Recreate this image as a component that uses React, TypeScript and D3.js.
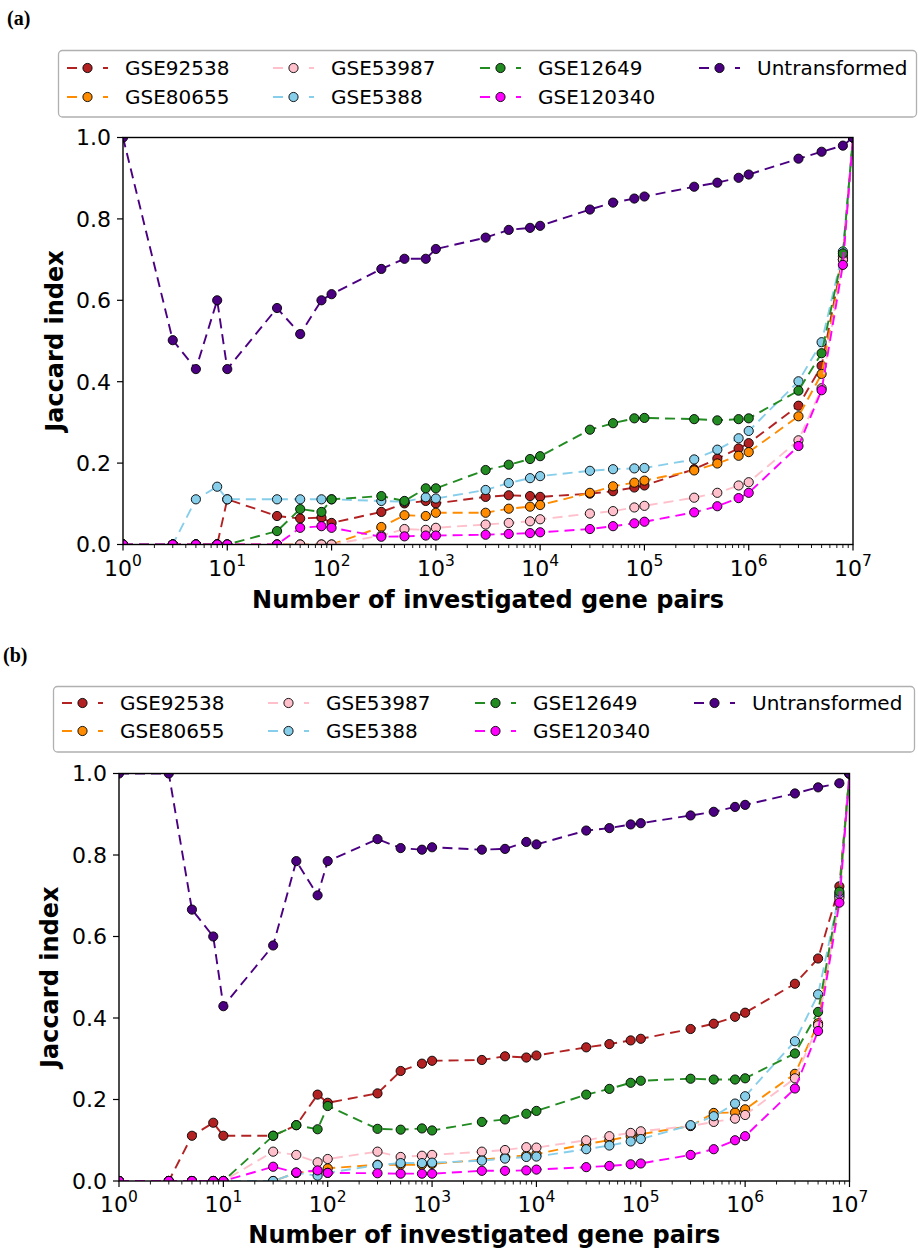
import React from 'react';
import * as d3 from 'd3';

const xValues = [1, 3, 5, 8, 10, 30, 50, 80, 100, 300, 500, 800, 1000, 3000, 5000, 8000, 1e4, 3e4, 5e4, 8e4, 1e5, 3e5, 5e5, 8e5, 1e6, 3e6, 5e6, 8e6, 1e7];

const seriesNames = ['GSE92538', 'GSE80655', 'GSE53987', 'GSE5388', 'GSE12649', 'GSE120340', 'Untransformed'];
const seriesColors = ['#b22222', '#ff8c00', '#ffc0cb', '#87ceeb', '#228b22', '#ff00ff', '#4b0082'];

const xTickExponents = [0, 1, 2, 3, 4, 5, 6, 7];
const yTicks = [0, 0.2, 0.4, 0.6, 0.8, 1.0];

// Panel (a)
const a_GSE92538 = [0, 0, 0, 0, 0.111, 0.070, 0.064, 0.066, 0.053, 0.080, 0.101, 0.107, 0.101, 0.117, 0.121, 0.119, 0.117, 0.125, 0.131, 0.140, 0.145, 0.185, 0.211, 0.236, 0.249, 0.341, 0.439, 0.708, 1.0];
const a_GSE80655 = [0, 0, 0, 0, 0, 0, 0, 0, 0, 0.043, 0.072, 0.070, 0.078, 0.078, 0.088, 0.093, 0.097, 0.127, 0.143, 0.152, 0.157, 0.182, 0.199, 0.218, 0.227, 0.315, 0.419, 0.700, 1.0];
const a_GSE53987 = [0, 0, 0, 0, 0, 0, 0, 0, 0, 0.022, 0.038, 0.036, 0.041, 0.049, 0.053, 0.057, 0.062, 0.076, 0.082, 0.091, 0.095, 0.115, 0.127, 0.145, 0.153, 0.256, 0.384, 0.700, 1.0];
const a_GSE5388 = [0, 0, 0.111, 0.142, 0.111, 0.111, 0.111, 0.111, 0.111, 0.107, 0.105, 0.116, 0.113, 0.134, 0.151, 0.163, 0.168, 0.181, 0.185, 0.187, 0.188, 0.209, 0.233, 0.261, 0.279, 0.401, 0.497, 0.720, 1.0];
const a_GSE12649 = [0, 0, 0, 0, 0, 0.033, 0.087, 0.080, 0.111, 0.119, 0.107, 0.138, 0.138, 0.183, 0.196, 0.210, 0.217, 0.282, 0.298, 0.310, 0.311, 0.308, 0.305, 0.308, 0.310, 0.378, 0.470, 0.715, 1.0];
const a_GSE120340 = [0, 0, 0, 0, 0, 0, 0.041, 0.045, 0.041, 0.019, 0.020, 0.022, 0.022, 0.024, 0.026, 0.028, 0.030, 0.038, 0.045, 0.052, 0.056, 0.079, 0.094, 0.114, 0.127, 0.242, 0.379, 0.687, 1.0];
const a_Untransformed = [1.0, 0.502, 0.431, 0.600, 0.431, 0.581, 0.517, 0.600, 0.615, 0.677, 0.702, 0.702, 0.726, 0.754, 0.773, 0.778, 0.783, 0.823, 0.840, 0.850, 0.855, 0.879, 0.889, 0.901, 0.909, 0.948, 0.965, 0.980, 1.0];

// Panel (b)
const b_GSE92538 = [0, 0, 0.111, 0.143, 0.111, 0.111, 0.137, 0.212, 0.192, 0.215, 0.270, 0.288, 0.295, 0.297, 0.306, 0.303, 0.308, 0.328, 0.336, 0.345, 0.349, 0.373, 0.386, 0.403, 0.413, 0.484, 0.546, 0.723, 1.0];
const b_GSE80655 = [0, 0, 0, 0, 0, 0, 0.020, 0.025, 0.031, 0.040, 0.040, 0.040, 0.042, 0.052, 0.058, 0.063, 0.066, 0.091, 0.100, 0.110, 0.115, 0.135, 0.167, 0.168, 0.176, 0.263, 0.387, 0.700, 1.0];
const b_GSE53987 = [0, 0, 0, 0, 0, 0.072, 0.064, 0.046, 0.054, 0.072, 0.059, 0.062, 0.064, 0.072, 0.076, 0.083, 0.082, 0.100, 0.110, 0.118, 0.122, 0.135, 0.145, 0.153, 0.162, 0.252, 0.382, 0.695, 1.0];
const b_GSE5388 = [0, 0, 0, 0, 0, 0, 0.020, 0.013, 0.020, 0.039, 0.044, 0.044, 0.045, 0.050, 0.055, 0.059, 0.060, 0.078, 0.087, 0.097, 0.103, 0.137, 0.159, 0.190, 0.208, 0.343, 0.458, 0.705, 1.0];
const b_GSE12649 = [0, 0, 0, 0, 0, 0.111, 0.137, 0.127, 0.184, 0.128, 0.126, 0.129, 0.124, 0.145, 0.151, 0.165, 0.172, 0.212, 0.226, 0.241, 0.246, 0.251, 0.249, 0.249, 0.252, 0.313, 0.415, 0.710, 1.0];
const b_GSE120340 = [0, 0, 0, 0, 0, 0.035, 0.021, 0.026, 0.020, 0.019, 0.018, 0.018, 0.018, 0.025, 0.025, 0.026, 0.028, 0.034, 0.037, 0.041, 0.043, 0.064, 0.078, 0.100, 0.110, 0.227, 0.368, 0.683, 1.0];
const b_Untransformed = [1.0, 1.0, 0.666, 0.600, 0.429, 0.578, 0.785, 0.701, 0.785, 0.839, 0.817, 0.813, 0.819, 0.813, 0.815, 0.832, 0.826, 0.860, 0.866, 0.875, 0.878, 0.897, 0.906, 0.918, 0.923, 0.951, 0.966, 0.976, 1.0];

const panelAValues = [a_GSE92538, a_GSE80655, a_GSE53987, a_GSE5388, a_GSE12649, a_GSE120340, a_Untransformed];
const panelBValues = [b_GSE92538, b_GSE80655, b_GSE53987, b_GSE5388, b_GSE12649, b_GSE120340, b_Untransformed];

const FONT = "'DejaVu Sans', sans-serif";
const MARKER_R = 4.6;
const LINE_DASH = '10 6';

type PanelProps = {
  id: string;
  label: string;
  labelX: number;
  labelY: number;
  values: number[][];
  left: number;
  right: number;
  top: number;
  bottom: number;
  legendBox: { x: number; y: number; w: number; h: number };
  legendCols: number[];
  legendRows: number[];
  xLabelY: number;
  yLabelX: number;
};

function Panel(p: PanelProps) {
  const x = d3.scaleLog().domain([1, 1e7]).range([p.left, p.right]);
  const y = d3.scaleLinear().domain([0, 1]).range([p.bottom, p.top]);
  const line = d3
    .line<number>()
    .x((_, i) => x(xValues[i]))
    .y((v) => y(v));

  const minorTicks: number[] = [];
  for (let e = 0; e < 7; e++) {
    for (let k = 2; k <= 9; k++) minorTicks.push(k * Math.pow(10, e));
  }
  const clipId = `clip-${p.id}`;

  return (
    <g>
      <text x={p.labelX} y={p.labelY} fontFamily="'Liberation Serif', 'Times New Roman', serif" fontWeight="bold" fontSize={20}>
        {p.label}
      </text>
      <defs>
        <clipPath id={clipId}>
          <rect x={p.left} y={p.top} width={p.right - p.left} height={p.bottom - p.top} />
        </clipPath>
      </defs>
      <g clipPath={`url(#${clipId})`}>
        {p.values.map((vals, si) => (
          <g key={si}>
            <path d={line(vals) || ''} fill="none" stroke={seriesColors[si]} strokeWidth={1.9} strokeDasharray={LINE_DASH} />
            {vals.map((v, i) => (
              <circle key={i} cx={x(xValues[i])} cy={y(v)} r={MARKER_R} fill={seriesColors[si]} stroke="#000" strokeWidth={0.9} />
            ))}
          </g>
        ))}
      </g>
      <rect x={p.left} y={p.top} width={p.right - p.left} height={p.bottom - p.top} fill="none" stroke="#000" strokeWidth={1.4} />
      {yTicks.map((t) => (
        <g key={t}>
          <line x1={p.left - 6} x2={p.left} y1={y(t)} y2={y(t)} stroke="#000" strokeWidth={1.2} />
          <text x={p.left - 12} y={y(t)} dy="0.36em" textAnchor="end" fontFamily={FONT} fontSize={22}>
            {t.toFixed(1)}
          </text>
        </g>
      ))}
      {xTickExponents.map((e) => (
        <g key={e}>
          <line x1={x(Math.pow(10, e))} x2={x(Math.pow(10, e))} y1={p.bottom} y2={p.bottom + 6} stroke="#000" strokeWidth={1.2} />
          <text x={x(Math.pow(10, e))} y={p.bottom + 31} textAnchor="middle" fontFamily={FONT} fontSize={22}>
            <tspan>10</tspan>
            <tspan dy={-10} fontSize={15.5}>{e}</tspan>
          </text>
        </g>
      ))}
      {minorTicks.map((t) => (
        <line key={t} x1={x(t)} x2={x(t)} y1={p.bottom} y2={p.bottom + 3.5} stroke="#000" strokeWidth={0.9} />
      ))}
      <text x={(p.left + p.right) / 2} y={p.xLabelY} textAnchor="middle" fontFamily={FONT} fontWeight="bold" fontSize={24}>
        Number of investigated gene pairs
      </text>
      <text transform={`translate(${p.yLabelX},${(p.top + p.bottom) / 2}) rotate(-90)`} textAnchor="middle" fontFamily={FONT} fontWeight="bold" fontSize={24}>
        Jaccard index
      </text>
      <rect x={p.legendBox.x} y={p.legendBox.y} width={p.legendBox.w} height={p.legendBox.h} rx={4} fill="#fff" stroke="#b0b0b0" strokeWidth={1.3} />
      {seriesNames.map((name, si) => {
        const col = Math.floor(si / 2);
        const row = si % 2;
        const hx = p.legendCols[col];
        const hy = p.legendRows[row];
        return (
          <g key={name}>
            <line x1={hx} x2={hx + 41} y1={hy} y2={hy} stroke={seriesColors[si]} strokeWidth={1.9} strokeDasharray="10 26 5" />
            <circle cx={hx + 20.5} cy={hy} r={MARKER_R} fill={seriesColors[si]} stroke="#000" strokeWidth={0.9} />
            <text x={hx + 58} y={hy} dy="0.36em" fontFamily={FONT} fontSize={20}>
              {name}
            </text>
          </g>
        );
      })}
    </g>
  );
}

export default function App() {
  return (
    <svg width={918} height={1249} style={{ position: 'absolute', left: 0, top: 0, background: '#fff' }}>
      <rect x={0} y={0} width={918} height={1249} fill="#fff" />
      <Panel
        id="a"
        label="(a)"
        labelX={7}
        labelY={25}
        values={panelAValues}
        left={123}
        right={853}
        top={137.5}
        bottom={544.5}
        legendBox={{ x: 58.5, y: 50.5, w: 858, h: 66.5 }}
        legendCols={[67, 273, 480, 699]}
        legendRows={[68, 97]}
        xLabelY={608}
        yLabelX={63}
      />
      <Panel
        id="b"
        label="(b)"
        labelX={3}
        labelY={662}
        values={panelBValues}
        left={119}
        right={849.5}
        top={773.5}
        bottom={1181}
        legendBox={{ x: 53.5, y: 686.5, w: 861, h: 65.5 }}
        legendCols={[62, 268, 475, 694]}
        legendRows={[703, 731]}
        xLabelY={1243}
        yLabelX={58}
      />
    </svg>
  );
}
